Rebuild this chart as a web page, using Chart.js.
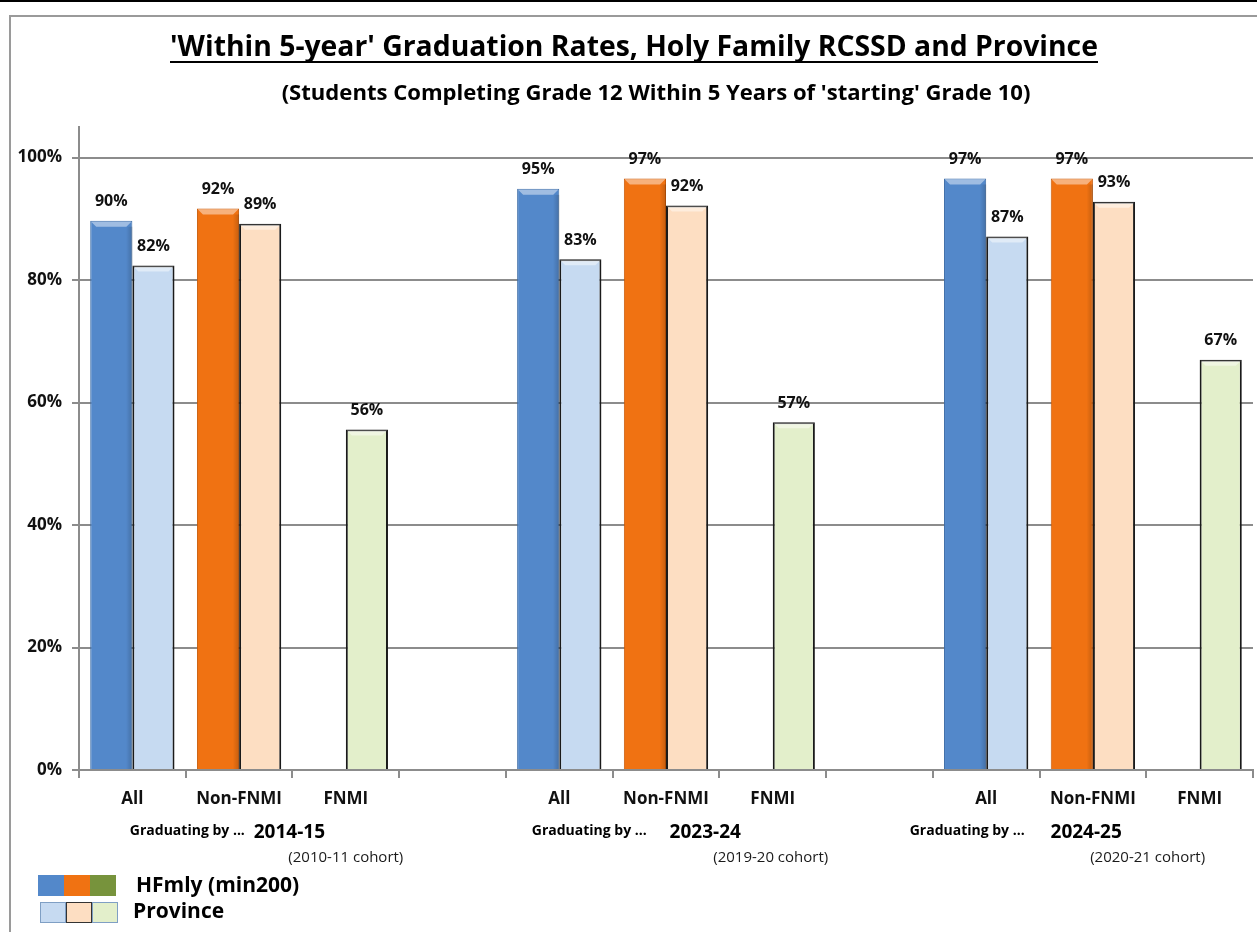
<!DOCTYPE html>
<html><head><meta charset="utf-8">
<script src="https://cdn.jsdelivr.net/npm/chart.js@4/dist/chart.umd.min.js"></script>
<style>html,body{margin:0;padding:0;background:#fff;} #wrap{width:1257px;height:932px;position:relative;}</style>
</head><body><div id="wrap"><canvas id="c" width="1257" height="932"></canvas></div>
<script>
// ---- data ----
const categories = ['All','Non-FNMI','FNMI','', 'All','Non-FNMI','FNMI','', 'All','Non-FNMI','FNMI'];
const hfmlyValues    = [0.897, 0.917, null, null, 0.949, 0.966, null, null, 0.966, 0.966, null];
const provinceValues = [0.824, 0.892, 0.556, null, 0.834, 0.922, 0.568, null, 0.871, 0.928, 0.670];
const yTickValues = [0, 0.2, 0.4, 0.6, 0.8, 1.0];
const groupYears = ['2014-15', '2023-24', '2024-25'];
const groupCohorts = ['(2010-11 cohort)', '(2019-20 cohort)', '(2020-21 cohort)'];
const seriesNames = ['HFmly (min200)', 'Province'];
const titleText = "'Within 5-year' Graduation Rates, Holy Family RCSSD and Province";
const subtitleText = "(Students Completing Grade 12 Within 5 Years of 'starting' Grade 10)";
const graduatingText = 'Graduating by ...';

// ---- styles ----
const FONT = "'Open Sans', 'DejaVu Sans', sans-serif";
const hfColors   = ['#5388CA', '#F07212', '#77933C', 'rgba(0,0,0,0)'];
const hfBorders  = ['#3f6ea8', '#c85a08', '#5c7430', 'rgba(0,0,0,0)'];
const provColors = ['#C6DAF1', '#FDDEC2', '#E3EFCB', 'rgba(0,0,0,0)'];
const GRID = '#8c8c8c';

function pct(v){ return Math.round(v*100) + '%'; }
function fitSize(ctx, text, weight, targetW){
  ctx.font = weight + ' 100px ' + FONT;
  return 100 * targetW / ctx.measureText(text).width;
}

const decor = {
  id: 'decor',
  afterDatasetsDraw(chart){
    const ctx = chart.ctx;
    chart.data.datasets.forEach((ds, di) => {
      const meta = chart.getDatasetMeta(di);
      meta.data.forEach((bar, i) => {
        if (ds.data[i] == null) return;
        const p = bar.getProps(['x','y','base','width'], true);
        const l = p.x - p.width/2, r = p.x + p.width/2;
        ctx.save();
        ctx.fillStyle = 'rgba(255,255,255,0.45)';
        ctx.beginPath();
        ctx.moveTo(l+1, p.y+1); ctx.lineTo(r-1, p.y+1);
        ctx.lineTo(r-6, p.y+6); ctx.lineTo(l+6, p.y+6); ctx.closePath();
        ctx.fill();
        if (di === 0) {
          const g = ctx.createLinearGradient(l, 0, r, 0);
          g.addColorStop(0, 'rgba(0,0,0,0)');
          g.addColorStop(0.85, 'rgba(0,0,0,0)');
          g.addColorStop(1, 'rgba(0,0,0,0.18)');
          ctx.fillStyle = g;
          ctx.fillRect(l, p.y+6, p.width, p.base - p.y - 6);
        }
        ctx.restore();
      });
    });
  },
  afterDraw(chart){
    const ctx = chart.ctx;
    const W = chart.width, H = chart.height;
    const x = chart.scales.x;
    ctx.save();
    // frame
    ctx.fillStyle = '#000'; ctx.fillRect(0, 0, W, 2);
    ctx.fillStyle = '#9a9a9a'; ctx.fillRect(10, 15, W-10, 2); ctx.fillRect(9, 15, 2, H-15);

    // value labels
    ctx.fillStyle = '#111';
    ctx.textAlign = 'center'; ctx.textBaseline = 'middle';
    ctx.font = 'bold 16px ' + FONT;
    chart.data.datasets.forEach((ds, di) => {
      const meta = chart.getDatasetMeta(di);
      meta.data.forEach((bar, i) => {
        if (ds.data[i] == null) return;
        const p = bar.getProps(['x','y'], true);
        ctx.fillText(pct(ds.data[i]), p.x, p.y - 19);
      });
    });

    // title
    let s = fitSize(ctx, titleText, 'bold', 928);
    ctx.font = 'bold ' + s + 'px ' + FONT;
    ctx.textAlign = 'center'; ctx.textBaseline = 'alphabetic';
    ctx.fillStyle = '#000';
    ctx.fillText(titleText, 634, 56);
    ctx.fillRect(170, 61, 928, 2);
    s = fitSize(ctx, subtitleText, 'bold', 749);
    ctx.font = 'bold ' + s + 'px ' + FONT;
    ctx.fillText(subtitleText, 656, 100);

    // group labels
    const gradOff = [55, 30, -19], yearOff = [157, 146, 100], cohOff = [0, -2, -52];
    for (let g = 0; g < groupYears.length; g++) {
      const allX = x.getPixelForValue(g*4), fnX = x.getPixelForValue(g*4+2);
      ctx.textBaseline = 'middle';
      ctx.font = 'bold 14px ' + FONT;
      ctx.fillText(graduatingText, allX + gradOff[g], 831);
      ctx.font = 'bold 19px ' + FONT;
      ctx.fillText(groupYears[g], allX + yearOff[g], 833);
      ctx.font = '15px ' + FONT;
      ctx.fillStyle = '#1a1a1a';
      ctx.fillText(groupCohorts[g], fnX + cohOff[g], 858);
      ctx.fillStyle = '#000';
    }

    // legend
    const sq = 26;
    for (let k = 0; k < 3; k++) {
      ctx.fillStyle = hfColors[k];
      ctx.fillRect(38 + k*sq, 875, sq, 21);
      ctx.fillStyle = provColors[k];
      ctx.fillRect(40 + k*sq, 902, sq, 21);
      ctx.strokeStyle = k === 1 ? '#333' : '#7f9fc4';
      ctx.lineWidth = 1;
      ctx.strokeRect(40.5 + k*sq, 902.5, sq-1, 20);
    }
    ctx.fillStyle = '#000';
    ctx.textAlign = 'left'; ctx.textBaseline = 'middle';
    ctx.font = 'bold 21px ' + FONT;
    ctx.fillText(seriesNames[0], 136, 886);
    ctx.fillText(seriesNames[1], 133, 912);
    ctx.restore();
  }
};

new Chart(document.getElementById('c'), {
  type: 'bar',
  data: {
    labels: categories,
    datasets: [
      { label: seriesNames[0], data: hfmlyValues,
        backgroundColor: hfmlyValues.map((v,i) => hfColors[i%4]),
        borderColor: hfmlyValues.map((v,i) => hfBorders[i%4]),
        borderWidth: 1 },
      { label: seriesNames[1], data: provinceValues,
        backgroundColor: provinceValues.map((v,i) => provColors[i%4]),
        borderColor: '#1a1a1a', borderWidth: 2 }
    ]
  },
  options: {
    responsive: false,
    animation: false,
    layout: { padding: { left: 0, right: 4, top: 127, bottom: 0 } },
    categoryPercentage: 0.79,
    barPercentage: 1.0,
    plugins: { legend: { display: false }, tooltip: { enabled: false }, title: { display: false } },
    scales: {
      x: {
        grid: { display: true, drawOnChartArea: false, drawTicks: true, tickLength: 8, color: GRID, lineWidth: 2, offset: true },
        border: { display: true, color: GRID, width: 2 },
        ticks: { color: '#111', font: { family: FONT, size: 17, weight: 'bold' }, padding: 11, maxRotation: 0, autoSkip: false },
        afterFit(scale){ scale.height = 162; }
      },
      y: {
        min: 0, max: 1.05,
        grid: { color: GRID, lineWidth: 2, drawTicks: true, tickLength: 7 },
        border: { display: true, color: GRID, width: 2 },
        ticks: { color: '#111', font: { family: FONT, size: 17, weight: 'bold' }, padding: 10,
                 callback: v => pct(v) },
        afterBuildTicks(scale){ scale.ticks = yTickValues.map(v => ({ value: v })); },
        afterFit(scale){ scale.width = 79; }
      }
    }
  },
  plugins: [decor]
});
</script></body></html>
